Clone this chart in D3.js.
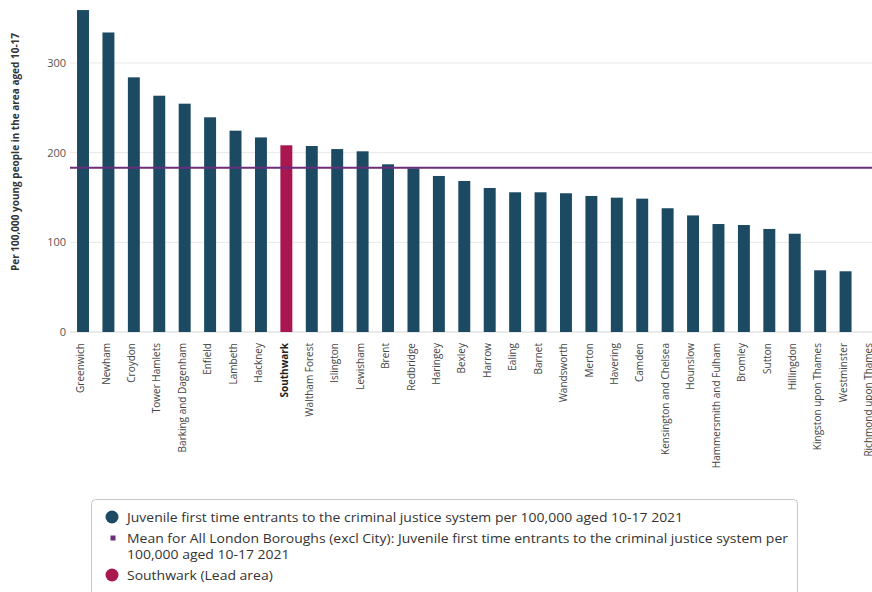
<!DOCTYPE html>
<html><head><meta charset="utf-8">
<script src="https://cdn.jsdelivr.net/npm/d3@7"></script>
<style>
body{margin:0;background:#fff;font-family:"Open Sans",sans-serif;}
svg{display:block;}
</style></head>
<body>
<svg id="chart" width="872" height="592"></svg>
<script>
const boroughs = ["Greenwich","Newham","Croydon","Tower Hamlets","Barking and Dagenham","Enfield","Lambeth","Hackney","Southwark","Waltham Forest","Islington","Lewisham","Brent","Redbridge","Haringey","Bexley","Harrow","Ealing","Barnet","Wandsworth","Merton","Havering","Camden","Kensington and Chelsea","Hounslow","Hammersmith and Fulham","Bromley","Sutton","Hillingdon","Kingston upon Thames","Westminster","Richmond upon Thames"];
const rates = [359,334,284,263.5,254.6,239.4,224.5,217,208.2,207.4,204,201.5,187,182.5,174,168.4,160.6,155.8,155.8,154.7,151.7,149.8,148.7,138,130,120.4,119.3,114.9,109.6,68.8,67.7,null];
const londonMean = 183.2;
const leadArea = "Southwark";
const yTicks = [0,100,200,300];
const yTitle = "Per 100,000 young people in the area aged 10-17";
const legendItems = [
  {type:"circle", color:"#1b4a62", lines:["Juvenile first time entrants to the criminal justice system per 100,000 aged 10-17 2021"]},
  {type:"square", color:"#6b2d7c", lines:["Mean for All London Boroughs (excl City): Juvenile first time entrants to the criminal justice system per","100,000 aged 10-17 2021"]},
  {type:"circle", color:"#a8174f", lines:["Southwark (Lead area)"]}
];

const svg = d3.select("#chart");
const x = d3.scaleBand().domain(boroughs).range([70.3, 883.7]).paddingInner(0.53).paddingOuter(0.265);
const y = d3.scaleLinear().domain([0,400]).range([332, 332-358.7]);

// gridlines
svg.append("g").selectAll("line").data(yTicks).join("line")
  .attr("x1",70).attr("x2",872)
  .attr("y1",d=>y(d)).attr("y2",d=>y(d))
  .attr("stroke",d=>d===0?"#d6d6d6":"#e8e8e8").attr("stroke-width",1);

// y axis labels
const yAxis = d3.axisLeft(y).tickValues(yTicks).tickSize(0).tickPadding(4);
const gy = svg.append("g").attr("transform","translate(70,0)").call(yAxis);
gy.select(".domain").remove();
gy.selectAll("text").attr("font-family","Open Sans, sans-serif").attr("font-size",11).attr("fill","#555");

// bars
svg.append("g").selectAll("rect").data(boroughs.map((b,i)=>({b,v:rates[i]})).filter(d=>d.v!=null)).join("rect")
  .attr("x",d=>x(d.b)).attr("width",x.bandwidth())
  .attr("y",d=>y(d.v)).attr("height",d=>y(0)-y(d.v))
  .attr("fill",d=>d.b===leadArea?"#a8174f":"#1b4a62");

// mean line
svg.append("line").attr("x1",70).attr("x2",872)
  .attr("y1",y(londonMean)).attr("y2",y(londonMean))
  .attr("stroke","#6b2d7c").attr("stroke-width",2);

// x axis labels
const xAxis = d3.axisBottom(x).tickSize(0).tickPadding(0);
const gx = svg.append("g").attr("transform","translate(0,"+y(0)+")").call(xAxis);
gx.select(".domain").remove();
gx.selectAll("text")
  .attr("font-family","Open Sans, sans-serif").attr("font-size",10).attr("fill","#444")
  .attr("text-anchor","end").attr("dy","0.12em")
  .attr("transform","translate(0,11) rotate(-90)").attr("x",0).attr("y",0)
  .attr("font-weight",d=>d===leadArea?"bold":"normal")
  .attr("fill",d=>d===leadArea?"#222":"#444");

// y title
svg.append("text").attr("transform","translate(19,152) rotate(-90)")
  .attr("text-anchor","middle").attr("font-family","Open Sans, sans-serif")
  .attr("font-size",10).attr("font-weight","bold").attr("fill","#333").text(yTitle);

// legend
const lg = svg.append("g");
lg.append("rect").attr("x",91.5).attr("y",499.5).attr("width",706).attr("height",110).attr("rx",4)
  .attr("fill","#fff").attr("stroke","#c8c8c8");
const rowY = [517, 538, 575];
legendItems.forEach((it,i)=>{
  if(it.type==="circle") lg.append("circle").attr("cx",112).attr("cy",rowY[i]).attr("r",6.5).attr("fill",it.color);
  else lg.append("rect").attr("x",110.5).attr("y",rowY[i]-2.5).attr("width",5).attr("height",5).attr("fill",it.color);
  it.lines.forEach((ln,j)=>{
    lg.append("text").attr("transform","translate(127,"+(rowY[i]+j*16)+") scale(1.075,1)").attr("dy","0.35em")
      .attr("font-family","Open Sans, sans-serif").attr("font-size",13).attr("fill","#333").text(ln);
  });
});
</script>
</body></html>
